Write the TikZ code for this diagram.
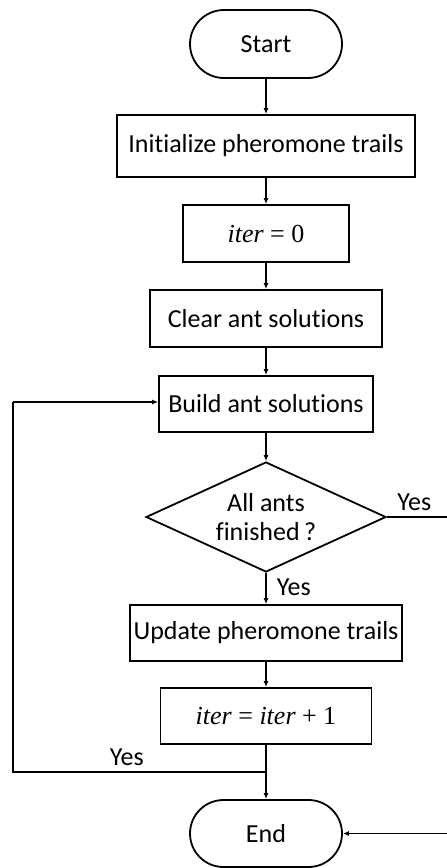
\documentclass[tikz,border=0pt]{standalone}
\usepackage{fontspec}
\setmainfont{Carlito}[Ligatures={NoCommon}]
\newfontfamily\serifit{Liberation Serif}
\usetikzlibrary{shapes.geometric,arrows.meta}
\newcommand{\itr}{{\serifit\itshape iter}}
\begin{document}
\begin{tikzpicture}[x=1pt,y=-1pt,
  every node/.style={font=\fontsize{26}{29}\selectfont},
  box/.style={draw,line width=1.8pt,inner sep=0pt,minimum height=57pt},
  term/.style={draw,line width=1.8pt,inner sep=0pt,minimum width=152pt,minimum height=68pt,rounded corners=34pt},
  dec/.style={draw,line width=1.8pt,diamond,inner sep=0pt,aspect=2.18,minimum width=240pt,minimum height=110pt,align=center},
  flow/.style={line width=1.6pt,-{Latex[length=6pt,width=5pt]}},
  lin/.style={line width=1.6pt},
  lab/.style={inner sep=0pt}]
\useasboundingbox (0,0) rectangle (447,868);
\clip (0,0) rectangle (447,868);
\node[term] (start) at (266,44) {Start};
\node[box,minimum width=298pt,minimum height=62pt] (init) at (266,146) {Initialize pheromone trails};
\node[box,minimum width=166pt] (it0) at (266,233.5) {{\serifit\itr\ = 0}};
\node[box,minimum width=232pt] (clear) at (266,318.5) {Clear ant solutions};
\node[box,minimum width=214pt,minimum height=56pt] (build) at (266,404) {Build ant solutions};
\node[dec] (dia) at (266,517) {All ants\\finished\,?};
\node[box,minimum width=272pt,minimum height=56pt] (upd) at (266,633) {Update pheromone trails};
\node[box,minimum width=211pt,minimum height=56pt] (it1) at (266,716) {{\serifit\itr\ = \itr\ + 1}};
\node[term,minimum height=67pt,rounded corners=33.5pt] (end) at (266,833.5) {End};
\coordinate (j) at (266,772);
\coordinate (l) at (13,772);
\coordinate (lt) at (13,402);
\coordinate (r1) at (470,517);
\coordinate (r2) at (470,833.5);
\draw[flow] (start) -- (init);
\draw[flow] (init) -- (it0);
\draw[flow] (it0) -- (clear);
\draw[flow] (clear) -- (build);
\draw[flow] (build) -- (dia);
\draw[flow] (dia) -- node[lab,anchor=west,xshift=10pt,yshift=1pt]{Yes} (upd);
\draw[flow] (upd) -- (it1);
\draw[flow] (it1) -- (end);
\draw[lin] (j) -- node[lab,above=6pt,pos=0.55]{Yes} (l) -- (lt);
\draw[flow] (lt) -- (lt -| build.west);
\draw[lin] (dia.east) -- node[lab,above=6pt,pos=0.33]{Yes} (r1) -- (r2);
\draw[flow] (r2) -- (end.east);
\end{tikzpicture}
\end{document}
